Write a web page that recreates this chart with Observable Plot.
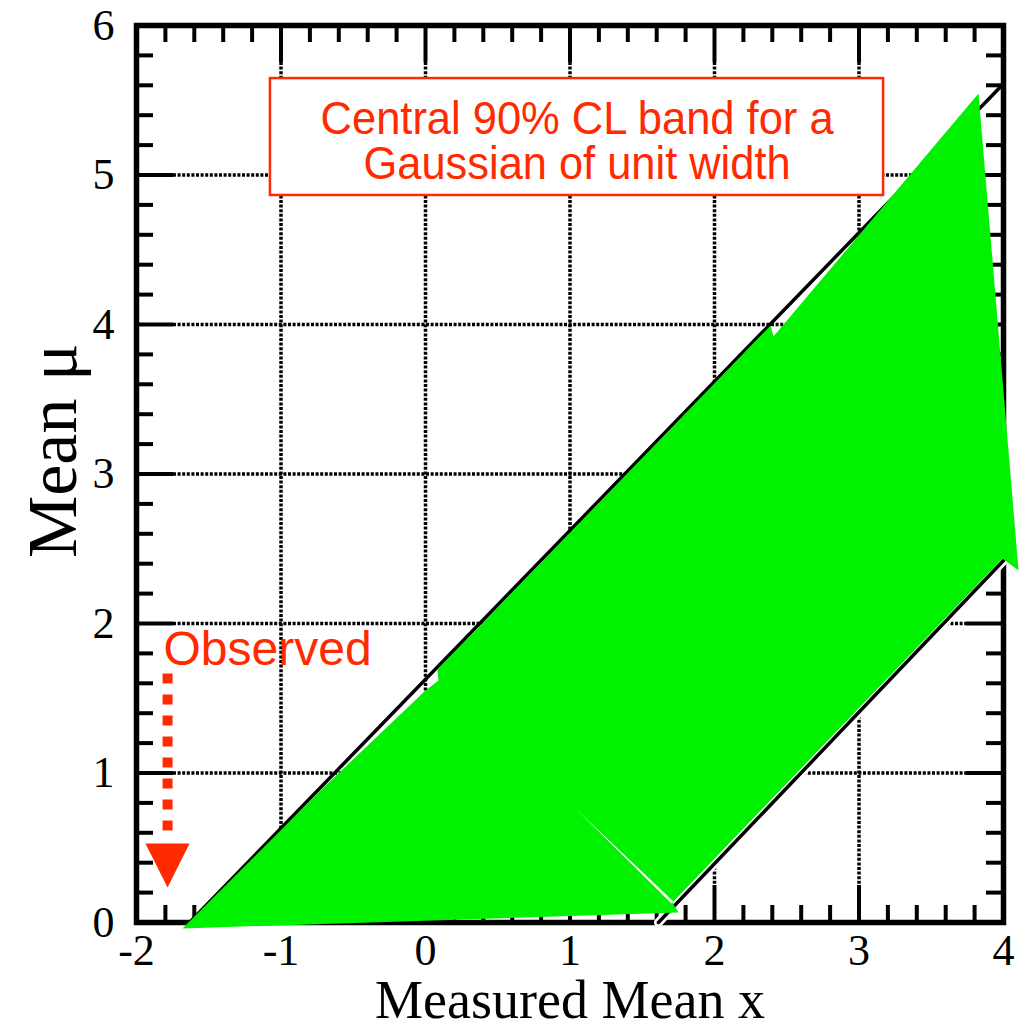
<!DOCTYPE html>
<html>
<head>
<meta charset="utf-8">
<script src="https://cdn.jsdelivr.net/npm/d3@7"></script>
<script src="https://cdn.jsdelivr.net/npm/@observablehq/plot@0.6"></script>
<style>
  html, body { margin: 0; padding: 0; background: #fff; }
  #chart svg { display: block; }
</style>
</head>
<body>
<div id="chart"></div>
<script>
// ---- Axis ticks ----
const xTicks = [-2, -1, 0, 1, 2, 3, 4];
const yTicks = [0, 1, 2, 3, 4, 5, 6];
const xGrid = [-1, 0, 1, 2, 3];
const yGrid = [1, 2, 3, 4, 5];

// ---- Band limits (mu = x ± 1.645) ----
const upperX  = [-1.633, 4.0];
const upperMu = [0.0, 5.61];
const lowerX  = [1.612, 4.0];
const lowerMu = [0.0, 2.421];

// ---- Shaded 90% CL band outline (x, mu) ----
const bandX  = [-1.682, -0.727, 0.000, 0.090, 0.083, 2.388, 2.408, 3.827, 4.104, 3.993, 1.709, 1.751];
const bandMu = [-0.040,  0.883, 1.552, 1.619, 1.692, 3.993, 3.920, 5.545, 2.355, 2.435, 0.134, 0.067];

// thin seam inside the band
const seamX  = [1.038, 1.716, 1.702];
const seamMu = [0.763, 0.140, 0.127];

// ---- Annotations ----
const boxLines = ["Central 90% CL band for a", "Gaussian of unit width"];
const boxLineWidths = [513, 427];
const boxX = [-1.073, 3.170];
const boxMu = [4.863, 5.645];
const boxTextX = 1.049;
const boxTextMu = [5.372, 5.072];

const observedLabel = "Observed";
const observedX = -1.813;
const observedMu = 1.822;
const arrowX = -1.785;
const arrowShaftMu = [1.666, 0.602];
const arrowHeadX  = [-1.938, -1.633, -1.785];
const arrowHeadMu = [0.528, 0.528, 0.234];

// ---- Layout ----
const W = 1033, H = 1030;
const M = {top: 25, right: 30, bottom: 108, left: 136};
const plotW = W - M.left - M.right;
const plotH = H - M.top - M.bottom;
const MINOR = 17, MAJOR = 37;

const RED = "#ff2a00";
const GREEN = "#00f200";
const SERIF = "'Liberation Serif', 'Times New Roman', serif";
const SANS = "'Liberation Sans', Arial, Helvetica, sans-serif";

const isInt = v => Math.abs(v - Math.round(v)) < 1e-9;
const xMinor = d3.range(0, 31).map(i => -2 + i * 0.2).filter(v => !isInt(v));
const yMinor = d3.range(0, 31).map(i => i * 0.2).filter(v => !isInt(v));

const pts = (xs, ys) => xs.map((x, i) => ({x, mu: ys[i]}));
const band = pts(bandX, bandMu);
const seam = pts(seamX, seamMu);
const upper = pts(upperX, upperMu);
const lower = pts(lowerX, lowerMu);
const arrowHead = pts(arrowHeadX, arrowHeadMu);
const shaft = pts([arrowX, arrowX], arrowShaftMu);

const tickStyle = {stroke: "black", strokeWidth: 4};
const gridStyle = {stroke: "black", strokeWidth: 3.5, strokeDasharray: "3,1.6"};

const chart = Plot.plot({
  width: W,
  height: H,
  marginTop: M.top,
  marginRight: M.right,
  marginBottom: M.bottom,
  marginLeft: M.left,
  style: {background: "white", color: "black"},
  x: {domain: [-2, 4]},
  y: {domain: [0, 6]},
  marks: [
    // dotted grid between the major ticks
    Plot.ruleX(xGrid, {...gridStyle, insetTop: MAJOR, insetBottom: MAJOR}),
    Plot.ruleY(yGrid, {...gridStyle, insetLeft: MAJOR, insetRight: MAJOR}),

    // frame
    Plot.frame({stroke: "black", strokeWidth: 5.5}),

    // inward ticks on all four sides
    Plot.ruleX(xMinor, {...tickStyle, insetTop: plotH - MINOR}),
    Plot.ruleX(xMinor, {...tickStyle, insetBottom: plotH - MINOR}),
    Plot.ruleY(yMinor, {...tickStyle, insetRight: plotW - MINOR}),
    Plot.ruleY(yMinor, {...tickStyle, insetLeft: plotW - MINOR}),
    Plot.ruleX(xGrid, {...tickStyle, insetTop: plotH - MAJOR}),
    Plot.ruleX(xGrid, {...tickStyle, insetBottom: plotH - MAJOR}),
    Plot.ruleY(yGrid, {...tickStyle, insetRight: plotW - MAJOR}),
    Plot.ruleY(yGrid, {...tickStyle, insetLeft: plotW - MAJOR}),

    // band limits
    Plot.line(upper, {x: "x", y: "mu", stroke: "black", strokeWidth: 3.5}),
    Plot.line(lower, {x: "x", y: "mu", stroke: "white", strokeWidth: 9}),
    Plot.line(lower, {x: "x", y: "mu", stroke: "black", strokeWidth: 3.5}),

    // shaded band
    Plot.line(band, {x: "x", y: "mu", fill: GREEN, stroke: "none", curve: "linear"}),
    Plot.line(seam, {x: "x", y: "mu", fill: "white", stroke: "none", curve: "linear"}),

    // tick labels
    Plot.axisX(xTicks, {tickSize: 0, tickPadding: 11, fontSize: 44, fontFamily: SERIF,
      fill: "black", tickFormat: d => `${d}`, label: null}),
    Plot.axisY(yTicks, {tickSize: 0, tickPadding: 22, fontSize: 44, fontFamily: SERIF,
      fill: "black", tickFormat: d => `${d}`, label: null}),

    // axis titles
    Plot.text(["Measured Mean x"], {frameAnchor: "bottom", dy: 95, fontSize: 54,
      fontFamily: SERIF, fill: "black"}),
    Plot.text(["Mean μ"], {frameAnchor: "left", textAnchor: "start", dx: -83, dy: 84,
      rotate: -90, fontSize: 70, fontFamily: SERIF, fill: "black"}),

    // title box
    Plot.rect([0], {x1: boxX[0], x2: boxX[1], y1: boxMu[0], y2: boxMu[1],
      fill: "white", stroke: RED, strokeWidth: 2.5}),
    Plot.text(boxLines, {x: boxTextX, y: (d, i) => boxTextMu[i], text: d => d,
      fontSize: 46, fontFamily: SANS, fill: RED, textAnchor: "middle"}),

    // observed marker
    Plot.text([observedLabel], {x: observedX, y: observedMu, text: d => d,
      textAnchor: "start", fontSize: 48, fontFamily: SANS, fill: RED}),
    Plot.line(shaft, {x: "x", y: "mu", stroke: RED, strokeWidth: 10,
      strokeDasharray: "10,11", strokeLinecap: "butt"}),
    Plot.line(arrowHead, {x: "x", y: "mu", fill: RED, stroke: "none", curve: "linear"})
  ]
});

// the box caption is set in a slightly condensed face
d3.select(chart).selectAll("text").each(function () {
  const i = boxLines.indexOf(this.textContent);
  if (i >= 0) {
    this.setAttribute("textLength", boxLineWidths[i]);
    this.setAttribute("lengthAdjust", "spacingAndGlyphs");
  }
});

document.getElementById("chart").appendChild(chart);
</script>
</body>
</html>
